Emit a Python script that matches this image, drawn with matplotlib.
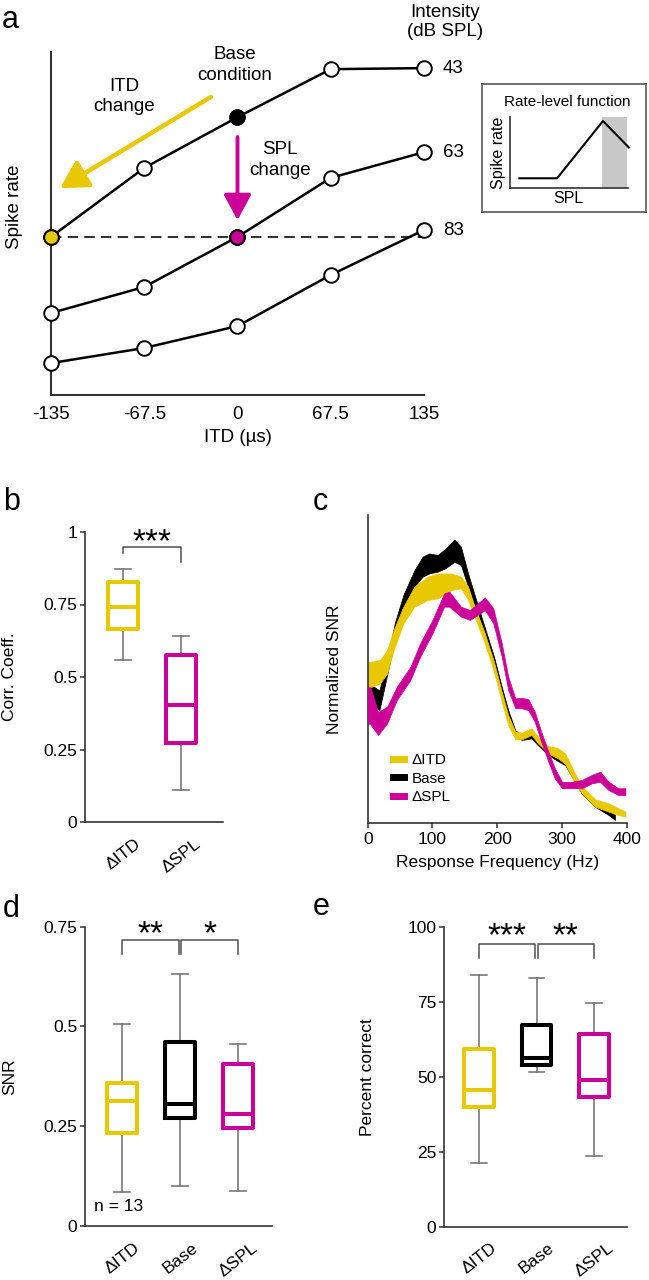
import matplotlib
matplotlib.use('Agg')
import matplotlib.pyplot as plt
from matplotlib.lines import Line2D

plt.rcParams['font.family'] = ['Liberation Sans', 'DejaVu Sans']

AMARILLO = '#E8C800'
MAGENTA = '#CC0099'
NEGRO = '#000000'
GRIS = '#6E6E6E'
EJE = '#333333'

W, H = 649, 1280

# ---------------- panel a: curvas ITD por intensidad
itd = [-135, -67.5, 0, 67.5, 135]
itd_labels = ['-135', '-67.5', '0', '67.5', '135']
intensidades = ['43', '63', '83']
rate_43 = [46.1, 66.2, 81.0, 95.0, 95.3]
rate_63 = [23.9, 31.5, 46.1, 63.3, 70.8]
rate_83 = [9.3, 13.7, 20.1, 35.0, 48.1]
nivel_base = 46.1

# recuadro: funcion rate-level
spl_inset = [0.08, 0.40, 0.79, 1.01]
rate_inset = [0.14, 0.14, 0.94, 0.57]
zona_gris = [0.785, 0.995]

# ---------------- panel b: coef. de correlacion (whislo, q1, med, q3, whishi)
cond_b = ['\u0394ITD', '\u0394SPL']
corr_itd = [0.56, 0.665, 0.74, 0.826, 0.872]
corr_spl = [0.109, 0.271, 0.402, 0.576, 0.643]

# ---------------- panel c: bandas de SNR normalizado
frec_itd = [0, 4, 19, 30, 40, 55, 72, 93, 108, 129, 144, 155, 165, 180, 195,
            207, 217, 228, 238, 253, 263, 279, 294, 305, 320, 331, 351, 372, 387, 398]
itd_alto = [0.523, 0.523, 0.529, 0.561, 0.626, 0.702, 0.767, 0.800, 0.810, 0.810, 0.800,
            0.767, 0.702, 0.621, 0.523, 0.426, 0.350, 0.296, 0.293, 0.307, 0.280, 0.249,
            0.242, 0.225, 0.160, 0.119, 0.076, 0.063, 0.047, 0.036]
itd_bajo = [0.440, 0.440, 0.453, 0.485, 0.561, 0.648, 0.702, 0.724, 0.729, 0.756, 0.762,
            0.724, 0.670, 0.588, 0.491, 0.393, 0.317, 0.271, 0.271, 0.285, 0.258, 0.225,
            0.209, 0.191, 0.128, 0.095, 0.052, 0.036, 0.025, 0.020]

frec_base = [0, 4, 11, 18, 30, 42, 55, 72, 85, 95, 108, 120, 134, 144, 155, 170, 195,
             207, 217, 228, 238, 253, 263, 279, 294, 305, 320, 331, 351, 372, 382]
base_alto = [0.445, 0.45, 0.44, 0.43, 0.53, 0.65, 0.74, 0.82, 0.865, 0.875, 0.87, 0.89, 0.92,
             0.897, 0.81, 0.707, 0.54, 0.442, 0.366, 0.30, 0.285, 0.296, 0.269, 0.236,
             0.215, 0.204, 0.15, 0.108, 0.068, 0.041, 0.025]
base_bajo = [0.435, 0.43, 0.38, 0.365, 0.48, 0.593, 0.69, 0.767, 0.80, 0.81, 0.816, 0.827,
             0.848, 0.837, 0.767, 0.68, 0.507, 0.42, 0.345, 0.28, 0.269, 0.274, 0.252, 0.22,
             0.2, 0.187, 0.133, 0.093, 0.052, 0.025, 0.009]

frec_spl = [0, 4, 16, 30, 45, 66, 81, 100, 118, 126, 144, 158, 181, 194, 207, 217, 228,
            238, 248, 258, 268, 279, 289, 300, 315, 331, 346, 359, 372, 387, 398]
spl_alto = [0.442, 0.44, 0.36, 0.377, 0.442, 0.507, 0.583, 0.659, 0.745, 0.751, 0.702,
            0.691, 0.732, 0.697, 0.583, 0.475, 0.404, 0.406, 0.401, 0.361, 0.296, 0.231,
            0.177, 0.133, 0.133, 0.139, 0.155, 0.166, 0.133, 0.112, 0.112]
spl_bajo = [0.324, 0.32, 0.285, 0.323, 0.399, 0.464, 0.540, 0.615, 0.702, 0.702, 0.670,
            0.659, 0.691, 0.648, 0.54, 0.431, 0.372, 0.372, 0.366, 0.328, 0.263, 0.198,
            0.144, 0.112, 0.112, 0.112, 0.128, 0.133, 0.106, 0.090, 0.090]
frec_ticks = [0, 100, 200, 300, 400]

# ---------------- paneles d y e
cond_de = ['\u0394ITD', 'Base', '\u0394SPL']
snr_itd = [0.084, 0.232, 0.312, 0.358, 0.505]
snr_base = [0.101, 0.27, 0.305, 0.461, 0.632]
snr_spl = [0.087, 0.246, 0.281, 0.405, 0.456]
pc_itd = [21.3, 40.0, 45.6, 59.2, 83.9]
pc_base = [51.7, 54.0, 56.2, 67.2, 82.8]
pc_spl = [23.7, 43.1, 48.9, 64.4, 74.7]
n_celdas = 13


fig = plt.figure(figsize=(W / 100, H / 100), dpi=100)


def ejes_px(x0, y0, x1, y1):
    # ejes a partir de un recuadro en pixeles (origen arriba a la izquierda)
    return fig.add_axes([x0 / W, 1 - y1 / H, (x1 - x0) / W, (y1 - y0) / H])


def estilo(ax, lw=1.2):
    for s in ['top', 'right']:
        ax.spines[s].set_visible(False)
    for s in ['left', 'bottom']:
        ax.spines[s].set_color(EJE)
        ax.spines[s].set_linewidth(lw)


def cajas(ax, datos, colores):
    stats = [dict(whislo=d[0], q1=d[1], med=d[2], q3=d[3], whishi=d[4], fliers=[])
             for d in datos]
    pos = list(range(1, len(datos) + 1))
    bp = ax.bxp(stats, positions=pos, widths=0.52, capwidths=0.27, showfliers=False)
    for i, c in enumerate(colores):
        bp['boxes'][i].set(color=c, linewidth=2.9, zorder=3)
        bp['medians'][i].set(color=c, linewidth=2.9, zorder=3)
    for w in bp['whiskers'] + bp['caps']:
        w.set(color=GRIS, linewidth=1.1)


def llave(ax, x1, x2, y, y1, y2, txt, y_txt):
    ax.plot([x1, x1, x2, x2], [y1, y, y, y2], color='#505050', lw=1.1, clip_on=False)
    ax.text((x1 + x2) / 2, y_txt, txt, ha='center', va='baseline', fontsize=24)


# ======================= panel a
ax = ejes_px(51, 52, 424, 395)
estilo(ax, 1.5)
ax.set_xlim(-135, 135)
ax.set_ylim(0, 100)
ax.set_yticks([])
ax.set_xticks(itd)
ax.set_xticklabels(itd_labels, fontsize=13.5)
ax.tick_params(axis='x', length=0, pad=8)
ax.set_xlabel('ITD (\u00b5s)', fontsize=13.5)
ax.xaxis.set_label_coords(0.5, -0.1)
ax.set_ylabel('Spike rate', fontsize=13.5)
ax.yaxis.set_label_coords(-0.074, 0.55)

ax.plot([itd[0], itd[-1]], [nivel_base, nivel_base], ls=(0, (5, 3)), color=EJE, lw=1.5, zorder=1)
for curva, nombre in zip([rate_43, rate_63, rate_83], intensidades):
    ax.plot(itd, curva, color=NEGRO, lw=1.8, marker='o', ms=10.5, mfc='white', mec=NEGRO,
            mew=1.4, clip_on=False, zorder=3)
    ax.text(148.5, curva[-1], nombre, fontsize=13.5, va='center', ha='left')
ax.plot(itd[2], rate_43[2], 'o', ms=10.5, mfc=NEGRO, mec=NEGRO, zorder=4)
ax.plot(itd[0], nivel_base, 'o', ms=10.5, mfc=AMARILLO, mec=NEGRO, mew=1.4, clip_on=False, zorder=4)
ax.plot(itd[2], nivel_base, 'o', ms=10.5, mfc=MAGENTA, mec=NEGRO, mew=1.4, zorder=4)

ax.annotate('', xy=(-128.5, 60.3), xytext=(-19.2, 86.9),
            arrowprops=dict(arrowstyle='-|>,head_length=0.75,head_width=0.42', lw=3.2,
                            color=AMARILLO, mutation_scale=22, shrinkA=0, shrinkB=0))
ax.annotate('', xy=(0, 51.0), xytext=(0, 75.2),
            arrowprops=dict(arrowstyle='-|>,head_length=0.7,head_width=0.38', lw=2.8,
                            color=MAGENTA, mutation_scale=22, shrinkA=0, shrinkB=0))
ax.text(-82, 87, 'ITD\nchange', ha='center', va='center', fontsize=13.5, linespacing=1.25)
ax.text(-2, 96.2, 'Base\ncondition', ha='center', va='center', fontsize=13.5, linespacing=1.25,
        clip_on=False)
ax.text(31, 68.5, 'SPL\nchange', ha='center', va='center', fontsize=13.5, linespacing=1.25)
ax.text(150.6, 108.7, 'Intensity\n(dB SPL)', ha='center', va='center', fontsize=13.5,
        linespacing=1.2, clip_on=False)

# recuadro
marco = ejes_px(482, 84, 646, 212)
marco.set_xticks([])
marco.set_yticks([])
for s in marco.spines.values():
    s.set_color('#555555')
    s.set_linewidth(1.2)
marco.text(0.52, 0.86, 'Rate-level function', ha='center', va='center', fontsize=11,
           transform=marco.transAxes)

ins = ejes_px(510, 116.7, 627.7, 188.3)
estilo(ins, 1.2)
ins.set_xlim(0, 1)
ins.set_ylim(0, 1)
ins.set_xticks([])
ins.set_yticks([])
ins.axvspan(zona_gris[0], zona_gris[1], color='#C8C8C8', lw=0)
ins.plot(spl_inset, rate_inset, color=NEGRO, lw=1.5, clip_on=False)
ins.set_xlabel('SPL', fontsize=11.5, labelpad=2)
ins.set_ylabel('Spike rate', fontsize=11.5, labelpad=3)

# ======================= panel b
ax = ejes_px(85, 532, 223, 822)
estilo(ax, 1.2)
cajas(ax, [corr_itd, corr_spl], [AMARILLO, MAGENTA])
ax.set_xlim(0.345, 2.724)
ax.set_ylim(0, 1)
ax.set_yticks([0, 0.25, 0.5, 0.75, 1])
ax.set_yticklabels(['0', '0.25', '0.5', '0.75', '1'], fontsize=12.5)
ax.set_xticks([1, 2])
ax.set_xticklabels(cond_b, fontsize=12.5, rotation=38, ha='center', va='top')
ax.tick_params(axis='x', length=0, pad=10)
ax.tick_params(axis='y', length=3.5, width=1.1, color=EJE, pad=2)
ax.set_ylabel('Corr. Coeff.', fontsize=12.5)
ax.yaxis.set_label_coords(-0.49, 0.5)
llave(ax, 1, 2, 0.95, 0.927, 0.897, '***', 0.932)

# ======================= panel c
ax = ejes_px(367.7, 515, 626.7, 822.7)
estilo(ax, 1.2)
ax.fill_between(frec_base, base_bajo, base_alto, color=NEGRO, lw=0.5, zorder=1)
ax.fill_between(frec_itd, itd_bajo, itd_alto, color=AMARILLO, lw=0.5, zorder=2)
ax.fill_between(frec_spl, spl_bajo, spl_alto, color=MAGENTA, lw=0.5, zorder=3)
ax.set_xlim(0, 400)
ax.set_ylim(0, 1)
ax.set_yticks([])
ax.set_xticks(frec_ticks)
ax.set_xticklabels([str(f) for f in frec_ticks], fontsize=12.5)
ax.tick_params(axis='x', length=3.5, width=1.1, color=EJE, pad=3)
ax.set_xlabel('Response Frequency (Hz)', fontsize=12.5)
ax.xaxis.set_label_coords(0.5, -0.105)
ax.set_ylabel('Normalized SNR', fontsize=12.5)
ax.yaxis.set_label_coords(-0.1, 0.5)
manijas = [Line2D([], [], color=c, lw=5) for c in [AMARILLO, NEGRO, MAGENTA]]
ax.legend(manijas, ['\u0394ITD', 'Base', '\u0394SPL'], loc='lower left',
          bbox_to_anchor=(0.075, 0.04), frameon=False, fontsize=11, handlelength=0.7,
          handletextpad=0.5, labelspacing=0.3, borderaxespad=0)

# ======================= panel d
ax = ejes_px(85, 926.7, 272, 1226)
estilo(ax, 1.2)
cajas(ax, [snr_itd, snr_base, snr_spl], [AMARILLO, NEGRO, MAGENTA])
ax.set_xlim(0.362, 3.586)
ax.set_ylim(0, 0.75)
ax.set_yticks([0, 0.25, 0.5, 0.75])
ax.set_yticklabels(['0', '0.25', '0.5', '0.75'], fontsize=12.5)
ax.set_xticks([1, 2, 3])
ax.set_xticklabels(cond_de, fontsize=12.5, rotation=38, ha='center', va='top')
ax.tick_params(axis='x', length=0, pad=10)
ax.tick_params(axis='y', length=3.5, width=1.1, color=EJE, pad=2)
ax.set_ylabel('SNR', fontsize=12.5)
ax.yaxis.set_label_coords(-0.364, 0.5)
llave(ax, 1, 1.98, 0.717, 0.681, 0.681, '**', 0.708)
llave(ax, 2.02, 3, 0.717, 0.681, 0.681, '*', 0.708)
ax.text(0.517, 0.048, 'n = %d' % n_celdas, fontsize=12.5, va='center', ha='left')

# ======================= panel e
ax = ejes_px(444, 926.7, 627, 1226.7)
estilo(ax, 1.2)
cajas(ax, [pc_itd, pc_base, pc_spl], [AMARILLO, NEGRO, MAGENTA])
ax.set_xlim(0.391, 3.574)
ax.set_ylim(0, 100)
ax.set_yticks([0, 25, 50, 75, 100])
ax.set_yticklabels(['0', '25', '50', '75', '100'], fontsize=12.5)
ax.set_xticks([1, 2, 3])
ax.set_xticklabels(cond_de, fontsize=12.5, rotation=38, ha='center', va='top')
ax.tick_params(axis='x', length=0, pad=10)
ax.tick_params(axis='y', length=3.5, width=1.1, color=EJE, pad=2)
ax.set_ylabel('Percent correct', fontsize=12.5)
ax.yaxis.set_label_coords(-0.377, 0.5)
llave(ax, 1, 1.98, 94.4, 89.7, 89.7, '***', 93.9)
llave(ax, 2.02, 3, 94.4, 89.7, 89.7, '**', 93.9)

# letras de los paneles
for letra, x, y in [('a', 2, 28), ('b', 3, 510), ('c', 313, 510), ('d', 3, 917), ('e', 313, 915)]:
    fig.text(x / W, 1 - y / H, letra, fontsize=22, ha='left', va='baseline')

fig.savefig('out.png', dpi=100)
